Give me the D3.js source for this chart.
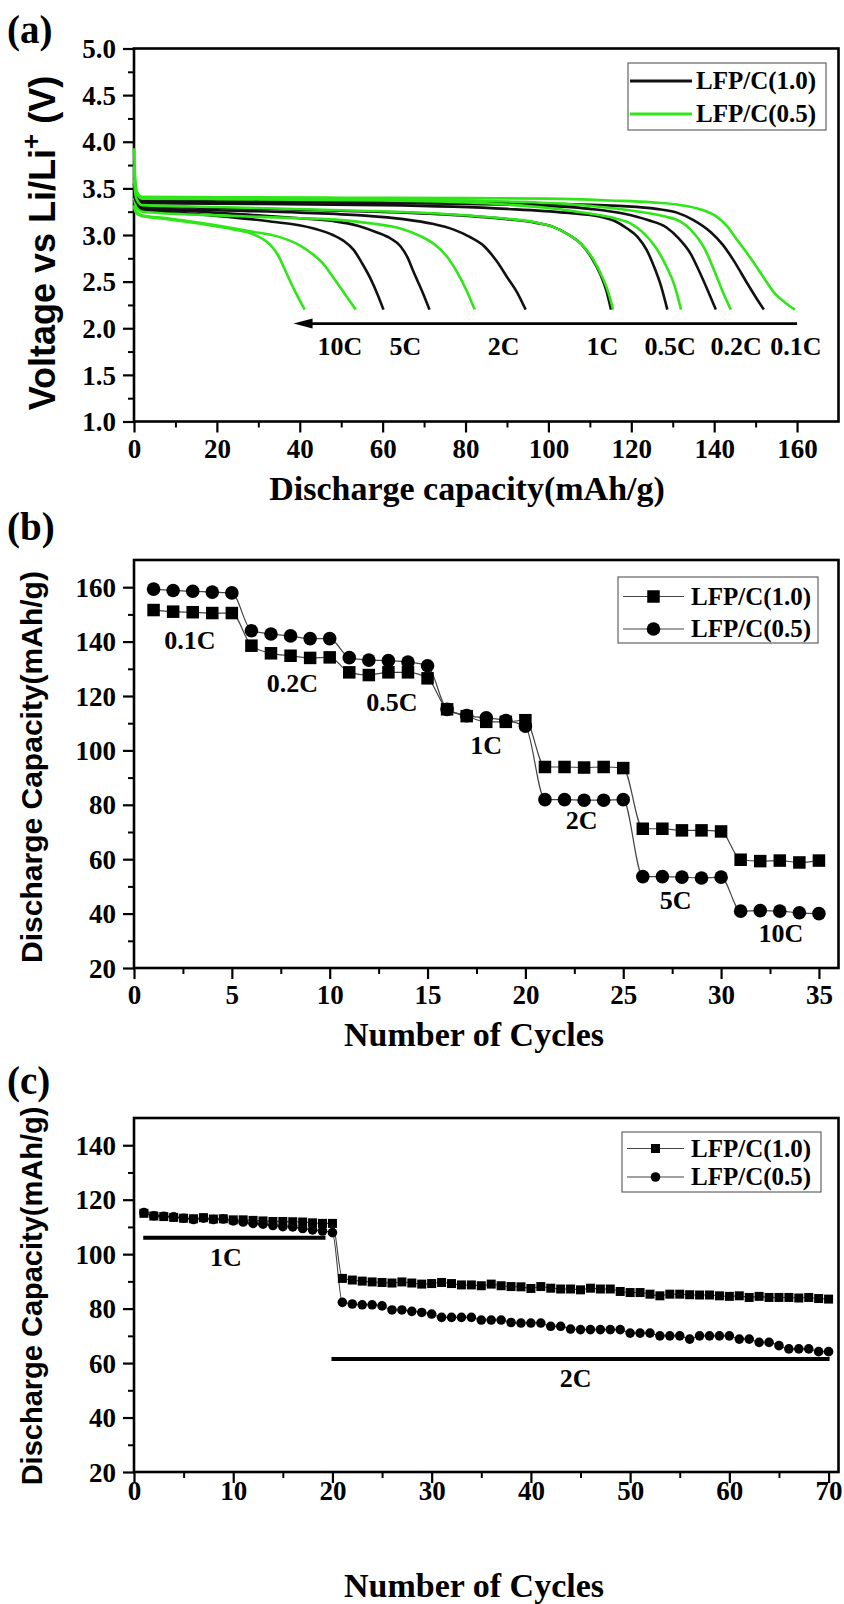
<!DOCTYPE html>
<html><head><meta charset="utf-8">
<script src="https://cdn.jsdelivr.net/npm/d3@7/dist/d3.min.js"></script>
<style>body{margin:0;background:#fff;} svg{display:block;background:#fff;}</style>
</head><body>
<svg id="chart" width="844" height="1604"></svg>
<script>
// ---------------- DATA ----------------
const seriesNames = ["LFP/C(1.0)", "LFP/C(0.5)"];

// Panel (a): discharge curves [capacity mAh/g, voltage V]
const a_black_01C = [[0,3.55],[0.5,3.42],[2,3.37],[20,3.365],[60,3.355],[100,3.335],[118,3.31],[126,3.28],[131,3.24],[135,3.16],[139.2,3.03],[142,2.9],[144.8,2.72],[148,2.48],[150.5,2.3],[152,2.2]];
const a_green_01C = [[0,3.93],[0.3,3.6],[0.8,3.45],[2,3.41],[20,3.405],[50,3.4],[80,3.395],[100,3.39],[115,3.37],[125,3.35],[132,3.32],[137,3.27],[140.5,3.2],[143,3.1],[145.5,2.95],[148.8,2.75],[152,2.54],[154.5,2.38],[157,2.28],[159.5,2.2]];
const a_black_02C = [[0,3.5],[0.5,3.4],[2,3.36],[20,3.355],[60,3.345],[95,3.32],[110,3.28],[118,3.23],[124,3.16],[128.5,3.08],[131.5,2.96],[134.3,2.8],[136.5,2.6],[138.5,2.4],[140.4,2.2]];
const a_green_02C = [[0,3.75],[0.5,3.48],[2,3.4],[20,3.395],[60,3.385],[90,3.36],[105,3.33],[115,3.29],[122,3.25],[128,3.2],[132,3.14],[134.5,3.05],[137.5,2.87],[140,2.62],[142,2.4],[144,2.2]];
const a_black_05C = [[0,3.48],[0.5,3.38],[2,3.34],[20,3.335],[60,3.32],[90,3.28],[104,3.24],[112,3.2],[116,3.15],[119,3.07],[121.5,2.98],[123.7,2.84],[125.5,2.66],[127.2,2.45],[128.7,2.2]];
const a_green_05C = [[0,3.7],[0.5,3.46],[2,3.39],[20,3.385],[60,3.37],[85,3.34],[100,3.29],[110,3.23],[116,3.18],[120,3.12],[123,3.02],[126,2.86],[128.5,2.66],[130.5,2.45],[132,2.2]];
const a_black_1C = [[0,3.45],[0.5,3.36],[2,3.31],[20,3.29],[50,3.26],[75,3.22],[90,3.17],[97,3.13],[101,3.09],[105,3.0],[108,2.9],[110.5,2.75],[112.6,2.57],[114,2.4],[115.1,2.2]];
const a_green_1C = [[0,3.6],[0.5,3.4],[2,3.32],[20,3.3],[50,3.265],[75,3.225],[90,3.175],[97,3.135],[101,3.09],[105,3.0],[108,2.9],[110.8,2.74],[113,2.55],[114.5,2.38],[115.6,2.2]];
const a_black_2C = [[0,3.42],[0.5,3.33],[2,3.29],[20,3.265],[40,3.24],[55,3.21],[65,3.17],[72,3.12],[77,3.06],[81,2.98],[84.5,2.88],[87.5,2.72],[90,2.55],[92.5,2.38],[94.5,2.2]];
const a_green_2C = [[0,3.4],[0.5,3.3],[2,3.25],[20,3.21],[40,3.18],[50,3.16],[58,3.12],[64.3,3.07],[69,2.99],[72.5,2.9],[75.5,2.77],[78,2.6],[80.3,2.4],[82.2,2.2]];
const a_black_5C = [[0,3.38],[0.5,3.31],[2,3.28],[16,3.25],[30,3.21],[40,3.18],[48,3.15],[54,3.1],[58.5,3.03],[62,2.96],[64.3,2.88],[66,2.76],[67.5,2.6],[69.5,2.4],[71.3,2.2]];
const a_green_5C = [[0,3.32],[0.5,3.25],[2,3.21],[8,3.18],[16,3.13],[28,3.04],[35,2.98],[40,2.89],[43,2.8],[45.5,2.7],[48,2.55],[51,2.36],[53.5,2.2]];
const a_black_10C = [[0,3.36],[0.5,3.3],[1.5,3.28],[5,3.26],[16,3.22],[32,3.15],[43.4,3.07],[48,3.0],[50.5,2.94],[53,2.84],[55,2.7],[57.1,2.53],[58.8,2.36],[60.2,2.2]];
const a_green_10C = [[0,3.3],[0.5,3.24],[2,3.2],[8,3.17],[16,3.12],[24,3.06],[28,3.02],[31,2.96],[33,2.89],[34.8,2.78],[36.5,2.62],[38.6,2.42],[41.2,2.2]];

const rateNames = ["10C","5C","2C","1C","0.5C","0.2C","0.1C"];
const aLabelCap = [49.7,65.5,89.2,113,129.4,145.3,159.7];
const aLabelV = 1.81;
const aArrow = {fromCap:160, toCap:38.5, volt:2.05};
const aXTicks = [0,20,40,60,80,100,120,140,160];
const aYTicks = [1.0,1.5,2.0,2.5,3.0,3.5,4.0,4.5,5.0];

// Panel (b): rate capability
const bCycles = d3.range(1, 36);
const bCap10 = [151.6,151.0,150.8,150.5,150.5, 138.5,135.7,134.8,134.0,134.2, 128.7,127.7,128.7,128.7,126.5, 115.1,112.6,110.5,110.5,111.1, 93.9,93.9,93.7,93.9,93.5, 71.2,71.2,70.6,70.6,70.2, 59.8,59.3,59.5,58.8,59.5];
const bCap05 = [159.3,158.8,158.5,158.2,157.9, 144.0,142.8,142.1,141.1,141.1, 134.1,133.2,133.0,132.5,131.1, 115.1,112.8,112.0,111.0,108.9, 81.9,81.9,81.7,81.7,81.9, 53.6,53.6,53.4,53.1,53.4, 40.9,41.1,40.9,40.3,40.0];
const bLabelNames = ["0.1C","0.2C","0.5C","1C","2C","5C","10C"];
const bLabelCycle = [2.85,8.09,13.18,18.0,22.87,27.68,33.05];
const bLabelCap = [140.8,124.7,117.9,102.0,74.4,45.0,32.8];
const bXTicks = [0,5,10,15,20,25,30,35];
const bYTicks = [20,40,60,80,100,120,140,160];

// Panel (c): cycling at 1C then 2C
const cCycles = d3.range(1, 71);
const cCap10 = [115.0,114.0,113.8,113.5,113.2,113.0,113.4,112.9,113.0,112.6,
  112.6,112.4,112.2,112.0,112.0,111.9,111.8,111.5,111.3,111.3,
  91.1,90.5,90.1,89.8,89.6,89.4,89.8,89.4,89.0,89.2,
  89.6,89.2,88.7,88.7,88.4,89.0,88.4,88.1,88.0,87.4,
  88.1,87.5,87.2,87.2,86.9,87.5,87.2,87.2,86.3,85.9,
  85.9,85.3,84.7,85.3,85.3,85.1,85.0,85.0,84.7,84.5,
  84.7,84.1,84.5,84.1,84.1,84.1,83.9,84.1,83.7,83.5];
const cCap05 = [115.3,114.1,113.9,113.7,113.2,112.7,113.2,112.7,112.9,112.2,
  111.8,111.3,111.0,110.5,110.1,110.0,109.4,108.9,108.5,107.9,
  82.3,81.7,81.4,81.4,81.0,79.5,79.5,79.0,78.6,78.0,
  76.8,76.8,76.8,76.8,75.8,75.8,75.8,74.9,74.7,74.7,
  74.7,73.5,73.5,72.5,72.3,72.3,72.3,72.3,72.3,71.0,
  71.0,71.0,70.0,70.0,70.0,68.8,70.0,70.0,70.0,70.0,
  68.8,68.8,67.6,67.6,66.4,65.2,65.2,65.2,64.2,64.2];
const cRateBars = [{name:"1C", from:0.93, to:19.3, cap:106, labelCycle:9.27, labelCap:99.1},
                   {name:"2C", from:19.9, to:70.1, cap:61.5, labelCycle:44.5, labelCap:54.4}];
const cXTicks = [0,10,20,30,40,50,60,70];
const cYTicks = [20,40,60,80,100,120,140];

// ---------------- DRAWING ----------------
const svg = d3.select("#chart");
const serif = "'Liberation Serif','Times New Roman',serif";
const sans = "'Liberation Sans',Arial,sans-serif";
const GREEN = "#2fe619";

function panel(o) {
  const g = svg.append("g");
  const x = d3.scaleLinear().domain(o.xDomain).range([o.left, o.right]);
  const y = d3.scaleLinear().domain(o.yDomain).range([o.bottom, o.top]);
  g.append("g").attr("transform", `translate(0,${o.bottom})`)
    .call(d3.axisBottom(x).tickValues(o.xMinor).tickSize(6).tickSizeOuter(0).tickFormat(""))
    .call(s => { s.select(".domain").remove(); s.selectAll("line").attr("stroke-width", 2); });
  g.append("g").attr("transform", `translate(${o.left},0)`)
    .call(d3.axisLeft(y).tickValues(o.yMinor).tickSize(6).tickSizeOuter(0).tickFormat(""))
    .call(s => { s.select(".domain").remove(); s.selectAll("line").attr("stroke-width", 2); });
  const xa = g.append("g").attr("transform", `translate(0,${o.bottom})`)
    .call(d3.axisBottom(x).tickValues(o.xTicks).tickSize(11).tickSizeOuter(0).tickFormat(o.xFmt));
  xa.select(".domain").remove();
  xa.selectAll("line").attr("stroke-width", 2.2);
  xa.selectAll("text").attr("dy", null).attr("y", o.xLabelOff)
    .attr("font-family", serif).attr("font-weight", "bold").attr("font-size", 27).attr("fill", "#000");
  const ya = g.append("g").attr("transform", `translate(${o.left},0)`)
    .call(d3.axisLeft(y).tickValues(o.yTicks).tickSize(11).tickPadding(7).tickSizeOuter(0).tickFormat(o.yFmt));
  ya.select(".domain").remove();
  ya.selectAll("line").attr("stroke-width", 2.2);
  ya.selectAll("text").attr("dy", "0.34em")
    .attr("font-family", serif).attr("font-weight", "bold").attr("font-size", 27).attr("fill", "#000");
  g.append("rect").attr("x", o.left).attr("y", o.top)
    .attr("width", o.right - o.left).attr("height", o.bottom - o.top)
    .attr("fill", "none").attr("stroke", "#000").attr("stroke-width", 2.6);
  g.append("text").attr("x", 7).attr("y", o.letterY).text(o.letter)
    .attr("font-family", serif).attr("font-weight", "bold").attr("font-size", 39);
  g.append("text").attr("x", o.xTitleX).attr("y", o.xTitleY).attr("text-anchor", "middle")
    .attr("font-family", serif).attr("font-weight", "bold").attr("font-size", 34).text(o.xTitle);
  return {g, x, y};
}

function legendBox(g, bx, by, bw, bh, rows, textX, lineX0, lineX1, drawSym) {
  g.append("rect").attr("x", bx).attr("y", by).attr("width", bw).attr("height", bh)
    .attr("fill", "#fff").attr("stroke", "#444").attr("stroke-width", 1);
  rows.forEach((r, i) => {
    g.append("line").attr("x1", lineX0).attr("x2", lineX1).attr("y1", r.y).attr("y2", r.y)
      .attr("stroke", r.color).attr("stroke-width", r.lw);
    if (drawSym) drawSym(g, (lineX0 + lineX1) / 2, r.y, i);
    g.append("text").attr("x", textX).attr("y", r.y).attr("dy", "0.33em")
      .attr("font-family", serif).attr("font-weight", "bold").attr("font-size", 25).text(r.name);
  });
}

// ===== Panel (a) =====
{
  const P = panel({left:134, right:838.5, top:48.5, bottom:421.5,
    xDomain:[0,170], yDomain:[1,5],
    xTicks:aXTicks, xMinor:[10,30,50,70,90,110,130,150], xFmt:d3.format("d"),
    yTicks:aYTicks, yMinor:[1.25,1.75,2.25,2.75,3.25,3.75,4.25,4.75], yFmt:d3.format(".1f"),
    xLabelOff:36, letter:"(a)", letterY:43,
    xTitle:"Discharge capacity(mAh/g)", xTitleX:467, xTitleY:500});
  const {g, x, y} = P;
  const line = d3.line().x(d => x(d[0])).y(d => y(d[1])).curve(d3.curveMonotoneX);
  const curves = [
    [a_black_10C,"#111"],[a_green_10C,GREEN],
    [a_black_5C,"#111"],[a_green_5C,GREEN],
    [a_black_2C,"#111"],[a_green_2C,GREEN],
    [a_black_05C,"#111"],[a_black_02C,"#111"],[a_black_01C,"#111"],
    [a_black_1C,"#111"],[a_green_1C,GREEN],
    [a_green_05C,GREEN],[a_green_02C,GREEN],[a_green_01C,GREEN]
  ];
  curves.forEach(([d, c]) => g.append("path").attr("d", line(d)).attr("fill", "none")
    .attr("stroke", c).attr("stroke-width", 2.6).attr("stroke-linejoin", "round"));
  const ay = y(aArrow.volt);
  g.append("line").attr("x1", x(aArrow.fromCap)).attr("x2", x(aArrow.toCap) + 12)
    .attr("y1", ay).attr("y2", ay).attr("stroke", "#000").attr("stroke-width", 2.6);
  const tx = x(aArrow.toCap);
  g.append("path").attr("d", `M${tx},${ay} L${tx + 19},${ay - 5} L${tx + 19},${ay + 5} Z`).attr("fill", "#000");
  rateNames.forEach((n, i) => g.append("text").attr("x", x(aLabelCap[i])).attr("y", y(aLabelV))
    .attr("dy", "0.35em").attr("text-anchor", "middle").attr("font-family", serif)
    .attr("font-weight", "bold").attr("font-size", 26).text(n));
  const t = g.append("text").attr("transform", "translate(55,243) rotate(-90)")
    .attr("text-anchor", "middle").attr("font-family", sans).attr("font-weight", "bold").attr("font-size", 36);
  t.append("tspan").text("Voltage vs Li/Li");
  t.append("tspan").attr("dy", -15).attr("font-size", 26).text("+");
  t.append("tspan").attr("dy", 15).text(" (V)");
  legendBox(g, 628, 63, 198, 67,
    [{name:seriesNames[0], color:"#111", lw:3, y:81}, {name:seriesNames[1], color:GREEN, lw:3, y:114}],
    696, 630, 692, null);
}

// ===== Panel (b) =====
{
  const P = panel({left:134, right:838.5, top:560, bottom:968,
    xDomain:[0,36], yDomain:[20,170],
    xTicks:bXTicks, xMinor:[2.5,7.5,12.5,17.5,22.5,27.5,32.5], xFmt:d3.format("d"),
    yTicks:bYTicks, yMinor:[30,50,70,90,110,130,150], yFmt:d3.format("d"),
    xLabelOff:36, letter:"(b)", letterY:540,
    xTitle:"Number of Cycles", xTitleX:474, xTitleY:1046});
  const {g, x, y} = P;
  const line = d3.line().x(d => x(d[0])).y(d => y(d[1])).curve(d3.curveMonotoneX);
  const d10 = bCycles.map((c, i) => [c, bCap10[i]]);
  const d05 = bCycles.map((c, i) => [c, bCap05[i]]);
  [d10, d05].forEach(d => g.append("path").attr("d", line(d)).attr("fill", "none")
    .attr("stroke", "#444").attr("stroke-width", 1.2));
  const sq = 12.5;
  g.selectAll(null).data(d10).join("rect")
    .attr("x", d => x(d[0]) - sq / 2).attr("y", d => y(d[1]) - sq / 2)
    .attr("width", sq).attr("height", sq).attr("fill", "#000");
  g.selectAll(null).data(d05).join("circle")
    .attr("cx", d => x(d[0])).attr("cy", d => y(d[1])).attr("r", 6.8).attr("fill", "#000");
  bLabelNames.forEach((n, i) => g.append("text").attr("x", x(bLabelCycle[i])).attr("y", y(bLabelCap[i]))
    .attr("dy", "0.35em").attr("text-anchor", "middle").attr("font-family", serif)
    .attr("font-weight", "bold").attr("font-size", 26).text(n));
  g.append("text").attr("transform", "translate(42,767) rotate(-90)").attr("text-anchor", "middle")
    .attr("font-family", sans).attr("font-weight", "bold").attr("font-size", 30).text("Discharge Capacity(mAh/g)");
  legendBox(g, 618, 577, 200, 66,
    [{name:seriesNames[0], color:"#444", lw:1.2, y:596.5}, {name:seriesNames[1], color:"#444", lw:1.2, y:629}],
    691, 623, 684, (gg, cx, cy, i) => {
      if (i === 0) gg.append("rect").attr("x", cx - sq / 2).attr("y", cy - sq / 2).attr("width", sq).attr("height", sq).attr("fill", "#000");
      else gg.append("circle").attr("cx", cx).attr("cy", cy).attr("r", 6.8).attr("fill", "#000");
    });
}

// ===== Panel (c) =====
{
  const P = panel({left:134, right:838.5, top:1118, bottom:1472,
    xDomain:[0,71], yDomain:[20,150],
    xTicks:cXTicks, xMinor:[5,15,25,35,45,55,65], xFmt:d3.format("d"),
    yTicks:cYTicks, yMinor:[30,50,70,90,110,130], yFmt:d3.format("d"),
    xLabelOff:28, letter:"(c)", letterY:1094,
    xTitle:"Number of Cycles", xTitleX:474, xTitleY:1597});
  const {g, x, y} = P;
  const line = d3.line().x(d => x(d[0])).y(d => y(d[1])).curve(d3.curveMonotoneX);
  const d10 = cCycles.map((c, i) => [c, cCap10[i]]);
  const d05 = cCycles.map((c, i) => [c, cCap05[i]]);
  [d10, d05].forEach(d => g.append("path").attr("d", line(d)).attr("fill", "none")
    .attr("stroke", "#444").attr("stroke-width", 1.1));
  const sq = 9;
  g.selectAll(null).data(d10).join("rect")
    .attr("x", d => x(d[0]) - sq / 2).attr("y", d => y(d[1]) - sq / 2)
    .attr("width", sq).attr("height", sq).attr("fill", "#000");
  g.selectAll(null).data(d05).join("circle")
    .attr("cx", d => x(d[0])).attr("cy", d => y(d[1])).attr("r", 4.8).attr("fill", "#000");
  cRateBars.forEach(b => {
    g.append("line").attr("x1", x(b.from)).attr("x2", x(b.to)).attr("y1", y(b.cap)).attr("y2", y(b.cap))
      .attr("stroke", "#000").attr("stroke-width", 4);
    g.append("text").attr("x", x(b.labelCycle)).attr("y", y(b.labelCap)).attr("dy", "0.35em")
      .attr("text-anchor", "middle").attr("font-family", serif).attr("font-weight", "bold")
      .attr("font-size", 26).text(b.name);
  });
  g.append("text").attr("transform", "translate(42,1296) rotate(-90)").attr("text-anchor", "middle")
    .attr("font-family", sans).attr("font-weight", "bold").attr("font-size", 29).text("Discharge Capacity(mAh/g)");
  legendBox(g, 622, 1132, 199, 60,
    [{name:seriesNames[0], color:"#444", lw:1.2, y:1148.5}, {name:seriesNames[1], color:"#444", lw:1.2, y:1177}],
    691, 627, 684, (gg, cx, cy, i) => {
      if (i === 0) gg.append("rect").attr("x", cx - sq / 2).attr("y", cy - sq / 2).attr("width", sq).attr("height", sq).attr("fill", "#000");
      else gg.append("circle").attr("cx", cx).attr("cy", cy).attr("r", 4.8).attr("fill", "#000");
    });
}
</script>
</body></html>
